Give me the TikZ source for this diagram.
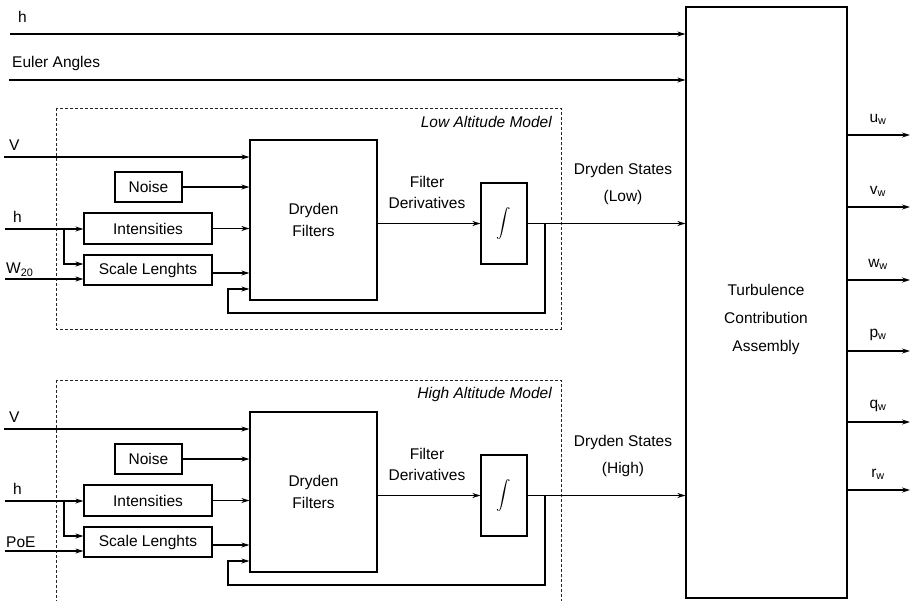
\documentclass[tikz,border=0pt]{standalone}
\usepackage{exscale}
\usepackage{fontspec}
\setmainfont{Liberation Sans}
\usetikzlibrary{arrows.meta,calc}
\newcommand\tf{\fontsize{15.5}{22}\selectfont}
\newcommand\drydenmodel[5]{%
\begin{scope}[yshift=#1]
  \draw[dbox] (56,108) rectangle (561,329);
  \node[anchor=east, font=\tf\itshape] (title#2) at (552,122) {#3};
  \node[box, minimum width=127pt, minimum height=160pt, align=center] (df#2) at (313.5,220) {Dryden\\Filters};
  \node[box, minimum width=67pt, minimum height=30pt] (noise#2) at (148.5,187) {Noise};
  \node[box, minimum width=128pt, minimum height=31pt] (int#2) at (148,228.5) {Intensities};
  \node[box, minimum width=128pt, minimum height=30pt] (sl#2) at (148,270) {Scale Lenghts};
  \node[box, minimum width=46pt, minimum height=81pt] (ig#2) at (504,223.5) {$\displaystyle\int$};
  \coordinate (vin#2) at (4,157);
  \coordinate (hin#2) at (5,229);
  \coordinate (br#2) at (64,229);
  \coordinate (win#2) at (5,279);
  \coordinate (j#2) at (545,223.5);
  \coordinate (fb#2) at (228,313);
  \coordinate (fbin#2) at (228,289);
  \node[anchor=west] (lv#2) at (9,145) {V};
  \node[anchor=west] (lh#2) at (13,217) {h};
  \node[anchor=west] (lw#2) at (6,270) {#4};
  \node (lf#2) at (427,182) {Filter};
  \node (ld#2) at (427,203) {Derivatives};
  \node (ls#2) at (623,170) {Dryden States};
  \node (lsl#2) at (623,197) {#5};
  \draw[arr] (vin#2) -- (vin#2 -| df#2.west);
  \draw[arr] (noise#2.east) -- (noise#2.east -| df#2.west);
  \draw[arr] (hin#2) -- (hin#2 -| int#2.west);
  \draw[arr] (br#2) |- ([yshift=6pt]sl#2.west);
  \draw[arr] (win#2) -- (win#2 -| sl#2.west);
  \draw[arr] (int#2.east) -- (int#2.east -| df#2.west);
  \draw[arr] ([yshift=-3pt]sl#2.east) -- ([yshift=-3pt]sl#2.east -| df#2.west);
  \draw[arr] (df#2.east |- ig#2.west) -- (ig#2.west);
  \draw[arr] (ig#2.east) -- (ig#2.east -| tca.west);
  \draw[arr] (j#2) |- (fb#2) |- (fbin#2 -| df#2.west);
\end{scope}}
\begin{document}
\begin{tikzpicture}[x=1pt,y=-1pt,
  every node/.style={font=\tf, inner sep=0pt},
  box/.style={draw, line width=1.2pt},
  arr/.style={line width=1.2pt, -{Stealth[length=8pt,width=5pt]}},
  dbox/.style={draw=black!85, line width=1pt, dash pattern=on 3pt off 2pt}]
\useasboundingbox (0,0) rectangle (917,600);
\clip (0,0) rectangle (917,600);
\node[box, minimum width=161pt, minimum height=591pt] (tca) at (766.5,302.5) {};
\node[align=center, font=\fontsize{15.5}{28}\selectfont] (tcat) at (766,319) {Turbulence\\Contribution\\Assembly};
\coordinate (htop) at (10,34);
\coordinate (eul) at (9,80);
\node[anchor=west] (lht) at (18,17) {h};
\node[anchor=west] (leu) at (12,63) {Euler Angles};
\draw[arr] (htop) -- (htop -| tca.west);
\draw[arr] (eul) -- (eul -| tca.west);
\foreach \yy/\nn in {135/u,207/v,280/w,351/p,422/q,490/r}{
  \coordinate (o\nn) at (910,\yy);
  \draw[arr] (o\nn -| tca.east) -- (o\nn);
  \node (lo\nn) at (878,\yy-16) {\nn\textsubscript{w}};
}
\drydenmodel{0pt}{L}{Low Altitude Model}{W\textsubscript{20}}{(Low)}
\drydenmodel{-272pt}{H}{High Altitude Model}{PoE}{(High)}
\end{tikzpicture}
\end{document}
